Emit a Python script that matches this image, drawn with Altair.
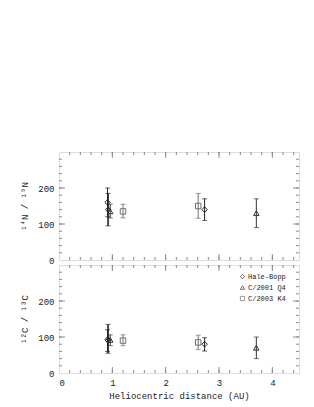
import altair as alt
import pandas as pd

comets = ["Hale-Bopp", "C/2001 Q4", "C/2003 K4"]

# 14N/15N panel
n_comet = ["Hale-Bopp", "Hale-Bopp", "C/2001 Q4", "C/2003 K4", "C/2003 K4", "Hale-Bopp", "C/2001 Q4"]
n_r = [0.91, 0.92, 0.96, 1.20, 2.61, 2.73, 3.70]
n_val = [160, 140, 135, 135, 150, 140, 130]
n_lo = [120, 95, 117, 117, 116, 110, 90]
n_hi = [200, 185, 155, 155, 185, 170, 170]
n_w = [1, 1.6, 1, 1, 1, 1, 1]

# 12C/13C panel
c_comet = ["Hale-Bopp", "Hale-Bopp", "C/2001 Q4", "C/2003 K4", "C/2003 K4", "Hale-Bopp", "C/2001 Q4"]
c_r = [0.91, 0.92, 0.96, 1.20, 2.61, 2.73, 3.70]
c_val = [93, 90, 92, 90, 85, 80, 70]
c_lo = [60, 55, 76, 76, 65, 61, 40]
c_hi = [120, 135, 106, 106, 105, 98, 100]
c_w = [1, 1.6, 1, 1, 1, 1, 1]

x_labels = [0, 1, 2, 3, 4]
y_labels = [0, 100, 200]
x_minor = [round(0.2 * i, 1) for i in range(1, 23)]
x_major = [1, 2, 3, 4]
y_minor = [20 * i for i in range(1, 15)]
y_major = [100, 200]

W, H = 240, 108
FONT = "Liberation Mono"
FRAME = "#8a8a8a"
colors = ["#222222", "#333333", "#6f6f6f"]
col_of = dict(zip(comets, colors))

xscale = alt.Scale(domain=[0, 4.5], nice=False, zero=False)
yscale = alt.Scale(domain=[0, 300], nice=False)


def panel(r, val, lo, hi, w, comet, ytitle, bottom):
    df = pd.DataFrame({"r": r, "val": val, "lo": lo, "hi": hi, "w": w, "comet": comet,
                       "col": [col_of[c] for c in comet]})
    base = alt.Chart(df)
    if bottom:
        xaxis = alt.Axis(values=x_labels, ticks=False, domain=False, grid=False,
                         labelFont=FONT, labelFontSize=9, labelPadding=5,
                         labelColor="#222", title="Heliocentric distance (AU)",
                         titleFont=FONT, titleFontSize=9, titleFontWeight="normal",
                         titleColor="#222", titlePadding=4)
    else:
        xaxis = None
    yaxis = alt.Axis(values=y_labels, ticks=False, domain=False, grid=False,
                     labelFont=FONT, labelFontSize=9, labelPadding=5, labelColor="#222",
                     title=ytitle, titleFont=FONT, titleFontSize=9,
                     titleFontWeight="normal", titleColor="#222", titlePadding=8)
    if bottom:
        legend = alt.Legend(orient="none", legendX=180, legendY=8, title=None,
                            labelFont=FONT, labelFontSize=7,
                            labelColor="#222222", symbolSize=18, symbolStrokeWidth=1,
                            rowPadding=2, padding=0, labelOffset=2)
    else:
        legend = None
    shape = alt.Shape("comet:N", scale=alt.Scale(domain=comets,
                      range=["diamond", "triangle-up", "square"]), legend=legend)
    color = alt.Color("comet:N", scale=alt.Scale(domain=comets, range=colors), legend=legend)
    plain = alt.Color("col:N", scale=None)

    X = lambda f: alt.X(f, scale=xscale, axis=xaxis, title=None if not bottom else "Heliocentric distance (AU)")
    Y = lambda f: alt.Y(f, scale=yscale, axis=yaxis, title=ytitle)

    bars = base.mark_rule().encode(
        x=X("r:Q"), y=Y("lo:Q"), y2="hi:Q",
        strokeWidth=alt.StrokeWidth("w:Q", scale=None),
        color=plain,
    )
    cap_lo = base.mark_tick(orient="horizontal", size=5, thickness=1).encode(
        x=X("r:Q"), y=Y("lo:Q"), color=plain)
    cap_hi = base.mark_tick(orient="horizontal", size=5, thickness=1).encode(
        x=X("r:Q"), y=Y("hi:Q"), color=plain)
    pts = base.mark_point(filled=False, size=30, strokeWidth=1, opacity=1).encode(
        x=X("r:Q"), y=Y("val:Q"), shape=shape, color=color)

    layers = [bars, cap_lo, cap_hi, pts]
    tk = alt.value(FRAME)
    for vals, ln in ((x_minor, 3), (x_major, 6)):
        d = alt.Chart(pd.DataFrame({"v": vals}))
        layers.append(d.mark_rule(strokeWidth=1).encode(
            x=X("v:Q"), y=alt.value(H), y2=alt.value(H - ln), color=tk))
        layers.append(d.mark_rule(strokeWidth=1).encode(
            x=X("v:Q"), y=alt.value(0), y2=alt.value(ln), color=tk))
    for vals, ln in ((y_minor, 3), (y_major, 6)):
        d = alt.Chart(pd.DataFrame({"v": vals}))
        layers.append(d.mark_rule(strokeWidth=1).encode(
            y=Y("v:Q"), x=alt.value(0), x2=alt.value(ln), color=tk))
        layers.append(d.mark_rule(strokeWidth=1).encode(
            y=Y("v:Q"), x=alt.value(W), x2=alt.value(W - ln), color=tk))
    return alt.layer(*layers).properties(width=W, height=H)


top = panel(n_r, n_val, n_lo, n_hi, n_w, n_comet, "¹⁴N / ¹⁵N", False)
bot = panel(c_r, c_val, c_lo, c_hi, c_w, c_comet, "¹²C / ¹³C", True)

chart = alt.vconcat(top, bot, spacing=5, bounds="flush").resolve_legend(
    color="independent", shape="independent"
).properties(
    padding={"top": 143, "left": 12, "right": 0, "bottom": 0}
).configure_view(stroke=FRAME, strokeWidth=1).configure(background="white")

chart.save("out.html", embed_options={"renderer": "svg", "actions": False})
